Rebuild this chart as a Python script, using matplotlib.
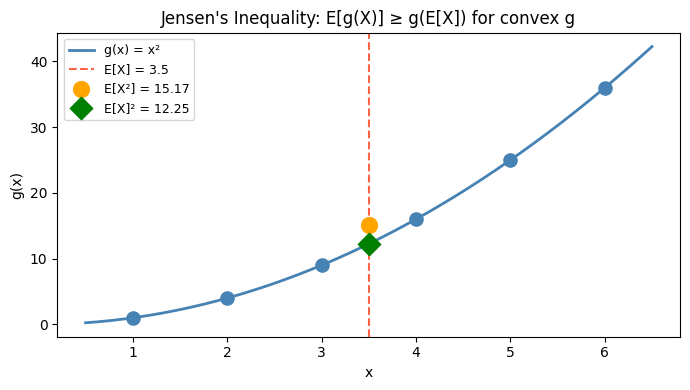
import matplotlib.pyplot as plt
import numpy as np

# die faces and the convex function g(x) = x^2
faces = [1, 2, 3, 4, 5, 6]
face_sq = [1, 4, 9, 16, 25, 36]
mean_x = 3.5
mean_x2 = 15.17
mean_sq = 12.25
x_lo, x_hi = 0.5, 6.5

def main():
    fig, ax = plt.subplots(figsize=(6.9, 3.9), dpi=100)
    xs = np.linspace(x_lo, x_hi, 300)
    ax.plot(xs, xs ** 2, color="steelblue", lw=2, label="g(x) = x²")
    ax.scatter(faces, face_sq, color="steelblue", s=90, zorder=3)
    ax.axvline(mean_x, color="tomato", ls="--", lw=1.5, label="E[X] = 3.5")
    ax.scatter([mean_x], [mean_x2], color="orange", s=130, zorder=4,
               label="E[X²] = %.2f" % mean_x2)
    ax.scatter([mean_x], [mean_sq], color="green", marker="D", s=130, zorder=4,
               label="E[X]² = %.2f" % mean_sq)
    ax.set_xlabel("x")
    ax.set_ylabel("g(x)")
    ax.set_title("Jensen's Inequality: E[g(X)] ≥ g(E[X]) for convex g")
    ax.legend(loc="upper left", fontsize=9)
    fig.subplots_adjust(left=0.083, right=0.986, bottom=0.137, top=0.916)
    fig.savefig("out.png")

if __name__ == '__main__':
    main()
